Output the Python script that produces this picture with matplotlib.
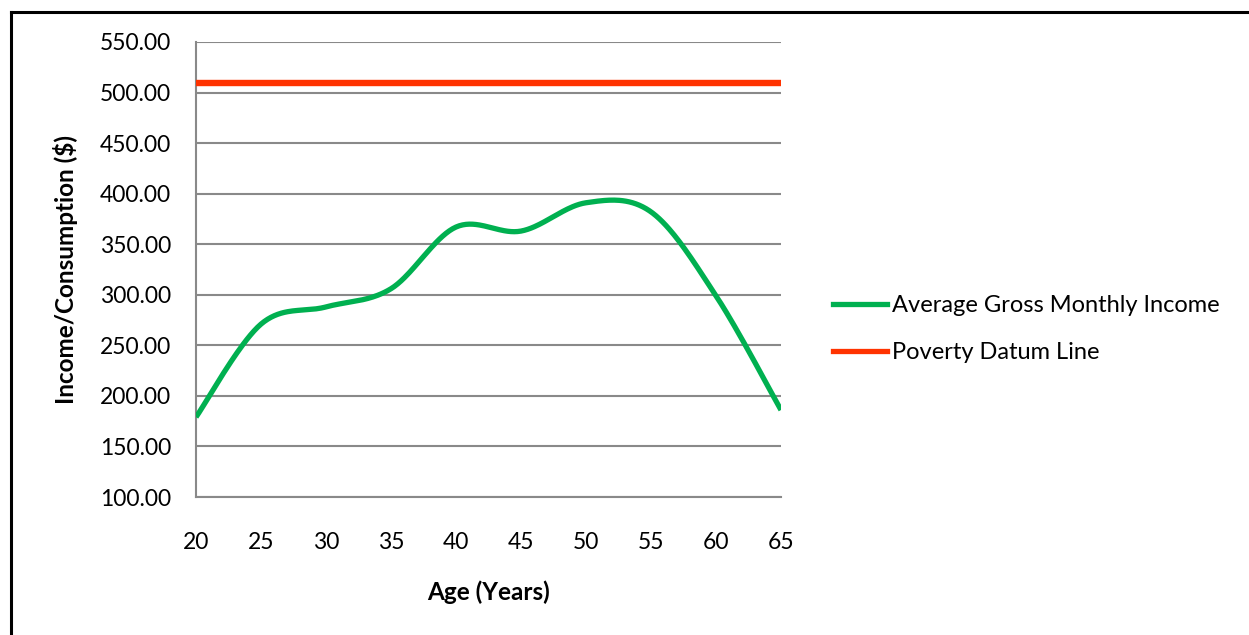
import numpy as np
import matplotlib
matplotlib.use("Agg")
import matplotlib.pyplot as plt
from matplotlib.lines import Line2D

ages = [20, 25, 30, 35, 40, 45, 50, 55, 60, 65]
income = [179, 271, 288, 306, 367, 363, 391, 382, 299, 186]
poverty_line = [509] * len(ages)
y_ticks = [100, 150, 200, 250, 300, 350, 400, 450, 500, 550]
x_ticks = [20, 25, 30, 35, 40, 45, 50, 55, 60, 65]

plt.rcParams["font.family"] = ["Lato", "DejaVu Sans"]


def smooth(xs, ys, n=40):
    """Cardinal (Catmull-Rom) spline through the points, like a smoothed line chart."""
    xs = np.asarray(xs, float)
    ys = np.asarray(ys, float)
    px = np.concatenate([[xs[0]], xs, [xs[-1]]])
    py = np.concatenate([[ys[0]], ys, [ys[-1]]])
    out_x, out_y = [], []
    t = np.linspace(0, 1, n)
    for i in range(1, len(px) - 2):
        x0, x1, x2, x3 = px[i - 1:i + 3]
        y0, y1, y2, y3 = py[i - 1:i + 3]
        c1x, c1y = x1 + (x2 - x0) / 6, y1 + (y2 - y0) / 6
        c2x, c2y = x2 - (x3 - x1) / 6, y2 - (y3 - y1) / 6
        bx = (1 - t) ** 3 * x1 + 3 * (1 - t) ** 2 * t * c1x + 3 * (1 - t) * t ** 2 * c2x + t ** 3 * x2
        by = (1 - t) ** 3 * y1 + 3 * (1 - t) ** 2 * t * c1y + 3 * (1 - t) * t ** 2 * c2y + t ** 3 * y2
        out_x.extend(bx)
        out_y.extend(by)
    return np.array(out_x), np.array(out_y)


W, H = 1249, 635
fig = plt.figure(figsize=(W / 100, H / 100), dpi=100)
ax = fig.add_axes([196 / W, 1 - 497 / H, (781 - 196) / W, (497 - 42) / H])

grid_col = "#898989"
green = "#00B050"
red = "#FF3300"

sx, sy = smooth(ages, income)
ax.plot(sx, sy, color=green, lw=3.8, solid_capstyle="butt", zorder=3)
ax.plot(ages, poverty_line, color=red, lw=4.6, solid_capstyle="butt", zorder=3)

ax.set_xlim(20, 65)
ax.set_ylim(100, 550)
ax.set_yticks(y_ticks)
ax.set_yticklabels([f"{v:.2f}" for v in y_ticks])
ax.set_xticks(x_ticks)
ax.set_xticklabels([str(v) for v in x_ticks])
ax.tick_params(axis="both", length=0, labelsize=16.5, colors="black")
ax.tick_params(axis="y", pad=18)
ax.tick_params(axis="x", pad=25)
ax.yaxis.grid(True, color=grid_col, lw=1.5)
ax.set_axisbelow(True)
for side in ["top", "right"]:
    ax.spines[side].set_visible(False)
for side in ["left", "bottom"]:
    ax.spines[side].set_color(grid_col)
    ax.spines[side].set_linewidth(1.5)

ax.set_xlabel("Age (Years)", fontsize=17.5, fontweight="bold", labelpad=20)
ax.set_ylabel("Income/Consumption ($)", fontsize=17.5, fontweight="bold", labelpad=16)

handles = [Line2D([], [], color=green, lw=3.8), Line2D([], [], color=red, lw=3.8)]
fig.legend(handles, ["Average Gross Monthly Income", "Poverty Datum Line"],
           loc="upper left", bbox_to_anchor=(833 / W, 1 - 295 / H), frameon=False,
           fontsize=17, handlelength=2.3, handletextpad=0.2, labelspacing=1.12,
           borderaxespad=0, borderpad=0)

# outer frame (top and left edges)
fig.add_artist(Line2D([11 / W, 11 / W], [0, 1 - 12 / H], transform=fig.transFigure,
                      color="black", lw=2.2))
fig.add_artist(Line2D([11 / W, 1], [1 - 12 / H, 1 - 12 / H], transform=fig.transFigure,
                      color="black", lw=2.2))

fig.savefig("out.png", dpi=100)
